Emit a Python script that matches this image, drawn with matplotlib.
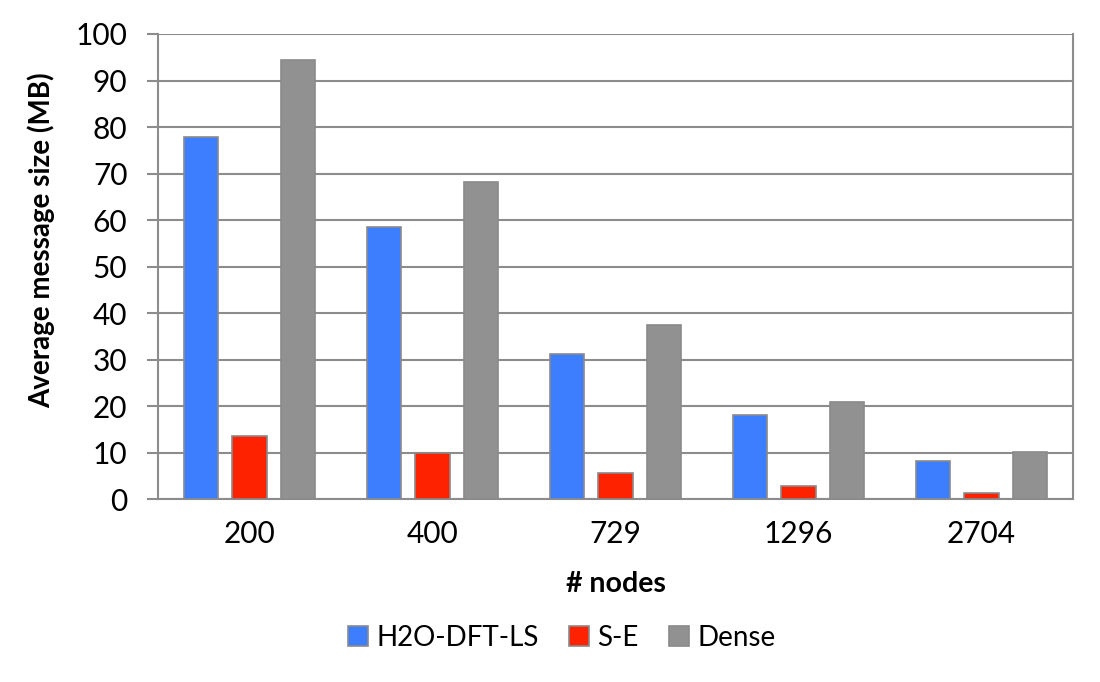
import matplotlib
matplotlib.use("Agg")
import matplotlib.pyplot as plt
import numpy as np

# ==============================
# DATA
# ==============================

nodes = ["200", "400", "729", "1296", "2704"]
h2o = [77.8, 58.6, 31.3, 18.1, 8.2]
se = [13.6, 9.9, 5.6, 2.8, 1.3]
dense = [94.4, 68.1, 37.5, 20.9, 10.1]

series = [
    ("H2O-DFT-LS", h2o, "#3d7eff"),
    ("S-E", se, "#ff2200"),
    ("Dense", dense, "#919191"),
]

# ==============================
# PLOT
# ==============================

plt.rcParams["font.family"] = ["Lato", "DejaVu Sans"]

fig = plt.figure(figsize=(11, 6.82), dpi=100)
ax = fig.add_axes([0.1436, 0.2676, 0.8318, 0.6826])

x = np.arange(len(nodes))
step = 0.265
width = 0.19

for i, (name, vals, color) in enumerate(series):
    ax.bar(x + (i - 1) * step, vals, width, color=color, label=name,
           edgecolor="#8a8a8a", linewidth=1.2, zorder=3)

ax.set_xlim(-0.5, len(nodes) - 0.5)
ax.set_ylim(0, 100)
ax.set_yticks(range(0, 101, 10))
ax.set_xticks(x)
ax.set_xticklabels(nodes)
ax.tick_params(axis="x", length=0, labelsize=21.5, pad=15)
ax.tick_params(axis="y", length=8, width=1.5, color="#8c8c8c", labelsize=21.5, pad=14)

ax.grid(axis="y", color="#8c8c8c", linewidth=1.5, zorder=0)
for side in ["left", "right", "bottom"]:
    ax.spines[side].set_color("#8c8c8c")
    ax.spines[side].set_linewidth(1.5)
ax.spines["top"].set_visible(False)

ax.set_ylabel("Average message size (MB)", fontsize=20, fontweight="bold", va="center")
ax.yaxis.set_label_coords(-0.127, 0.557)
ax.set_xlabel("# nodes", fontsize=20.5, fontweight="bold", va="center")
ax.xaxis.set_label_coords(0.5, -0.1815)

leg = ax.legend(loc="center", bbox_to_anchor=(0.4415, -0.2975), ncol=3,
                frameon=False, fontsize=20, handlelength=0.72, handleheight=0.72,
                columnspacing=1.08, handletextpad=0.3, borderaxespad=0)

plt.savefig("out.png", dpi=100)
plt.close()
